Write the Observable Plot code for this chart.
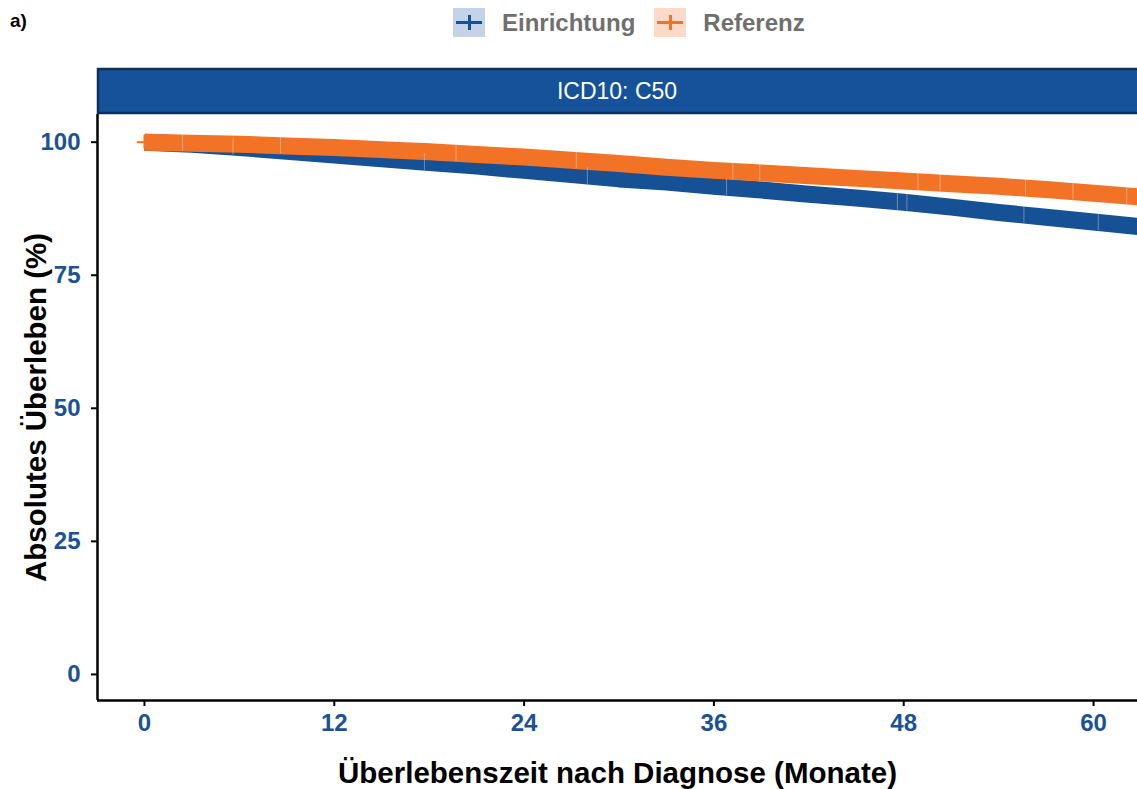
<!DOCTYPE html>
<html>
<head>
<meta charset="utf-8">
<script src="https://cdn.jsdelivr.net/npm/d3@7"></script>
<script src="https://cdn.jsdelivr.net/npm/@observablehq/plot@0.6"></script>
<style>
  body { margin: 0; background: #fff; font-family: "Liberation Sans", Arial, sans-serif; }
  #wrap { position: relative; width: 1137px; height: 789px; overflow: hidden; }
  #tag { position: absolute; left: 10px; top: 10px; font-weight: bold; font-size: 19px; color: #000; }
  #legend { position: absolute; left: 453px; top: 8px; height: 29px; display: flex; align-items: center; }
  .key { width: 32px; height: 29px; position: relative; }
  .key .h { position: absolute; left: 3px; width: 26px; top: 13px; height: 3px; }
  .key .v { position: absolute; top: 7px; height: 15px; left: 14.5px; width: 3px; }
  .lab { font-weight: bold; font-size: 24px; color: #6f6f6f; margin-left: 17px; margin-right: 19px; }
  #chart { position: absolute; left: 0; top: 45px; }
</style>
</head>
<body>
<div id="wrap">
  <div id="tag">a)</div>
  <div id="legend"></div>
  <div id="chart"></div>
</div>
<script>
// ---- data ----
const groups = ["Einrichtung", "Referenz"];
const colors = ["#165196", "#f37326"];
const keyBg = ["#c4d3e7", "#fddac7"];
const months = [0, 3, 6, 9, 12, 15, 18, 21, 24, 27, 30, 33, 36, 39, 42, 45, 48, 51, 54, 57, 60, 63];
const survEinrichtung = [100, 99.6, 99.0, 98.3, 97.6, 96.9, 96.2, 95.5, 94.7, 93.9, 93.1, 92.5, 91.7, 91.0, 90.2, 89.5, 88.7, 87.8, 86.8, 85.9, 85.0, 84.1];
const survReferenz = [100, 99.8, 99.6, 99.3, 99.0, 98.6, 98.2, 97.7, 97.2, 96.6, 96.0, 95.3, 94.7, 94.2, 93.7, 93.2, 92.7, 92.2, 91.7, 91.1, 90.4, 89.7];
const censorEinrichtung = [5.6, 17.7, 28.0, 36.8, 47.6, 48.2, 55.6, 60.3];
const censorReferenz = [2.4, 8.6, 19.7, 27.3, 37.2, 38.9, 48.9, 50.3, 55.7, 58.7, 62.1];
const xTicks = [0, 12, 24, 36, 48, 60];
const yTicks = [0, 25, 50, 75, 100];
const stripLabel = "ICD10: C50";
const xTitle = "Überlebenszeit nach Diagnose (Monate)";
const yTitle = "Absolutes Überleben (%)";

// ---- legend ----
const legend = document.getElementById("legend");
groups.forEach((g, i) => {
  const k = document.createElement("div");
  k.className = "key";
  k.style.background = keyBg[i];
  k.innerHTML = `<div class="h" style="background:${colors[i]}"></div><div class="v" style="background:${colors[i]}"></div>`;
  legend.appendChild(k);
  const t = document.createElement("span");
  t.className = "lab";
  t.textContent = g;
  legend.appendChild(t);
});

// ---- tables ----
const survTable = [
  ...months.map((m, i) => ({group: groups[0], t: m, s: survEinrichtung[i]})),
  ...months.map((m, i) => ({group: groups[1], t: m, s: survReferenz[i]}))
];
function valAt(series, t) {
  const i = Math.min(months.length - 2, Math.max(0, d3.bisectRight(months, t) - 1));
  const f = (t - months[i]) / (months[i + 1] - months[i]);
  return series[i] + f * (series[i + 1] - series[i]);
}
const censorTable = [
  ...censorEinrichtung.map(t => ({group: groups[0], t, s: valAt(survEinrichtung, t)})),
  ...censorReferenz.map(t => ({group: groups[1], t, s: valAt(survReferenz, t)}))
];

const W = 1137, H = 744;
const mL = 97, mR = 0, mT = 69, mB = 89;
const blue = "#1b5297";
const FONT = "Liberation Sans, Arial, sans-serif";

const stripMark = (index, scales, values, dims) => {
  const g = d3.create("svg:g");
  const x0 = dims.marginLeft + 1, y0 = dims.marginTop - 45;
  g.append("rect")
    .attr("x", x0).attr("y", y0)
    .attr("width", dims.width - dims.marginLeft + 10).attr("height", 44)
    .attr("fill", "#16529a").attr("stroke", "#0d305c").attr("stroke-width", 2.5);
  g.append("text")
    .attr("x", (dims.marginLeft + dims.width - dims.marginRight) / 2)
    .attr("y", y0 + 22).attr("dy", "0.35em")
    .attr("text-anchor", "middle").attr("fill", "#fff")
    .style("font-size", "23px").style("font-family", FONT)
    .text(stripLabel);
  return g.node();
};

const chart = Plot.plot({
  width: W, height: H,
  marginLeft: mL, marginRight: mR, marginTop: mT, marginBottom: mB,
  style: {fontFamily: FONT, background: "#fff", overflow: "visible"},
  x: {domain: [-2.97, 62.78]},
  y: {domain: [-4.9, 105.2]},
  color: {domain: groups, range: colors},
  marks: [
    Plot.line(survTable, {x: "t", y: "s", z: "group", stroke: "group", strokeWidth: 17, curve: "linear", strokeLinecap: "butt", clip: true}),
    Plot.ruleX(censorTable, {x: "t", y1: d => d.s - 1.55, y2: d => d.s + 1.55, stroke: "#fff", strokeOpacity: 0.35, strokeWidth: 1, clip: true}),
    Plot.ruleY([{t: 0, s: 100}], {x1: -0.45, x2: 0.45, y: "s", stroke: colors[1], strokeWidth: 2}),
    Plot.ruleX([0], {y1: 98.7, y2: 101.3, stroke: colors[1], strokeWidth: 2}),
    Plot.axisY({ticks: yTicks, tickSize: 6, stroke: "#000", strokeWidth: 2, text: null, label: null}),
    Plot.axisX({ticks: xTicks, tickSize: 6, stroke: "#000", strokeWidth: 2, text: null, label: null}),
    Plot.text(yTicks, {y: d => d, frameAnchor: "left", dx: -17, textAnchor: "end", lineAnchor: "middle", fontSize: 24, fontWeight: "bold", fill: blue}),
    Plot.text(xTicks, {x: d => d, frameAnchor: "bottom", dy: 23, textAnchor: "middle", lineAnchor: "middle", fontSize: 24, fontWeight: "bold", fill: blue}),
    Plot.ruleX([-2.97], {stroke: "#000", strokeWidth: 2.5}),
    Plot.ruleY([-4.9], {stroke: "#000", strokeWidth: 2.5}),
    Plot.text([yTitle], {frameAnchor: "left", dx: -61, rotate: -90, textAnchor: "middle", lineAnchor: "middle", fontSize: 29.5, fontWeight: "bold", fill: "#000"}),
    Plot.text([xTitle], {frameAnchor: "bottom", dy: 73, textAnchor: "middle", lineAnchor: "middle", fontSize: 29.5, fontWeight: "bold", fill: "#000"}),
    stripMark
  ]
});
document.getElementById("chart").appendChild(chart);
</script>
</body>
</html>
